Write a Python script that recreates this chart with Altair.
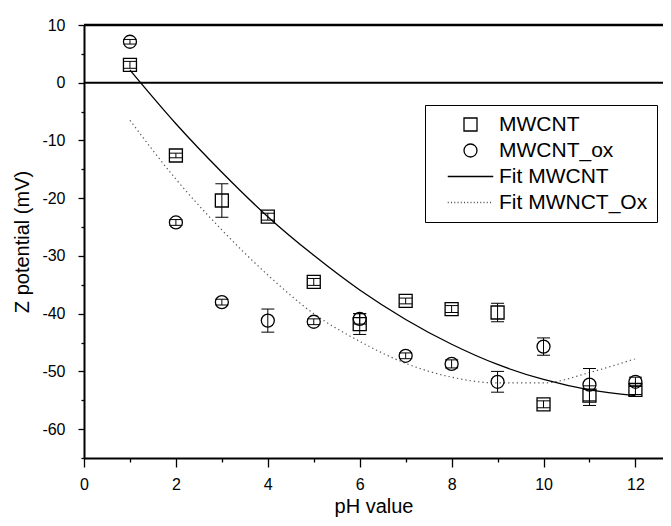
import altair as alt
import numpy as np
import pandas as pd

# ---- data ----
ph = list(range(1, 13))
mwcnt = [3.1, -12.6, -20.4, -23.2, -34.5, -41.8, -37.8, -39.2, -39.8, -55.7, -54.2, -53.2]
mwcnt_err = [0.6, 0.4, 2.9, 0.6, 0.6, 1.8, 0.5, 0.6, 1.6, 0.6, 1.7, 0.8]
ox = [7.1, -24.2, -38.0, -41.2, -41.4, -40.9, -47.3, -48.7, -51.8, -45.7, -52.3, -51.8]
ox_err = [0.4, 0.5, 0.5, 2.0, 0.5, 0.9, 0.5, 0.7, 1.8, 1.5, 2.8, 0.8]
fit_mwcnt = [2.2, -7.1, -15.5, -23.2, -29.9, -35.9, -41.0, -45.3, -48.8, -51.4, -53.2, -54.2]
fit_ox = [-6.5, -16.7, -25.5, -33.3, -40.0, -44.8, -48.6, -51.0, -52.0, -52.0, -50.2, -47.8]
names = ["MWCNT", "MWCNT_ox", "Fit MWCNT", "Fit MWNCT_Ox"]
x_ticks = list(range(0, 13))
y_ticks = list(range(-65, 11, 5))

pts = pd.DataFrame({
    "pH": ph * 2,
    "z": mwcnt + ox,
    "err": mwcnt_err + ox_err,
    "series": [names[0]] * 12 + [names[1]] * 12,
})
pts["lo"] = pts["z"] - pts["err"]
pts["hi"] = pts["z"] + pts["err"]
fit1 = pd.DataFrame({"pH": ph, "z": fit_mwcnt})
fit2 = pd.DataFrame({"pH": ph, "z": fit_ox})

FONT = "Liberation Sans"
x_scale = alt.Scale(domain=[0, 12.6], nice=False, zero=False)
y_scale = alt.Scale(domain=[-65, 10], nice=False, zero=False)

x_axis = alt.Axis(
    values=x_ticks, title="pH value",
    labelExpr="datum.value % 2 === 0 ? toString(datum.value) : ''",
    tickSize={"condition": {"test": "datum.value % 2 !== 0", "value": 4}, "value": 9},
    labelPadding=9, titlePadding=4, labelOverlap=False, labelFlush=False,
)
y_axis = alt.Axis(
    values=y_ticks, title="Z potential (mV)",
    labelExpr="datum.value % 10 === 0 ? toString(datum.value) : ''",
    tickSize={"condition": {"test": "datum.value % 10 !== 0", "value": 3}, "value": 6},
    labelPadding=13, titlePadding=9, labelOverlap=False, labelFlush=False,
)


def X(f="pH"):
    return alt.X(f"{f}:Q", scale=x_scale, axis=x_axis)


def Y(f="z"):
    return alt.Y(f"{f}:Q", scale=y_scale, axis=y_axis)


# legend symbols for the fit lines (styles only)
solid_path = "M-3.5,0H3.5"
dotted_path = "".join(f"M{v:.2f},0h0.16" for v in np.arange(-3.5, 3.5, 0.5))

legend = alt.Legend(
    title=None, orient="none", legendX=341, legendY=80, direction="vertical",
    strokeColor="black", fillColor="white", padding=9, cornerRadius=0,
    labelFont=FONT, labelFontSize=21, labelColor="black", labelLimit=400,
    symbolSize=169, symbolStrokeWidth=1.3, symbolOffset=26, labelOffset=18,
    rowPadding=4,
)

points = alt.Chart(pts).mark_point(size=169, filled=False, strokeWidth=1.3, opacity=1).encode(
    x=X(), y=Y(),
    shape=alt.Shape("series:N", scale=alt.Scale(domain=names, range=["square", "circle", solid_path, dotted_path]), legend=legend),
    color=alt.Color("series:N", scale=alt.Scale(domain=names, range=["black", "black", "black", "#555555"]), legend=legend),
)

err_rule = alt.Chart(pts).mark_rule(color="black", strokeWidth=1).encode(
    x=X(), y=Y("lo"), y2="hi:Q"
)
err_caps = alt.Chart(pts).transform_fold(["lo", "hi"], as_=["end", "val"]).mark_tick(
    orient="horizontal", size=13, thickness=1, color="black", opacity=1
).encode(x=X(), y=Y("val"))

line1 = alt.Chart(fit1).mark_line(interpolate="monotone", color="black", strokeWidth=1.3).encode(x=X(), y=Y())
line2 = alt.Chart(fit2).mark_line(interpolate="monotone", color="#555555", strokeWidth=1.2, strokeDash=[1.3, 3]).encode(x=X(), y=Y())

zero = alt.Chart(pd.DataFrame({"z": [0]})).mark_rule(color="black", strokeWidth=2).encode(y=Y())
top = alt.Chart(pd.DataFrame({"z": [10]})).mark_rule(color="black", strokeWidth=2.5).encode(y=Y())

chart = alt.layer(zero, top, line2, line1, err_rule, err_caps, points).properties(
    width=579, height=433,
    padding={"left": 76, "top": 17, "right": 0, "bottom": 60},
    autosize=alt.AutoSizeParams(type="none"),
    background="white",
).configure_view(stroke=None).configure_axis(
    grid=False, domainColor="black", domainWidth=2, tickColor="black", tickWidth=1.3,
    labelFont=FONT, labelFontSize=16, labelColor="black",
    titleFont=FONT, titleFontSize=20, titleFontWeight="normal", titleColor="black",
)

chart.save("out.html", embed_options={"renderer": "svg", "actions": False})
